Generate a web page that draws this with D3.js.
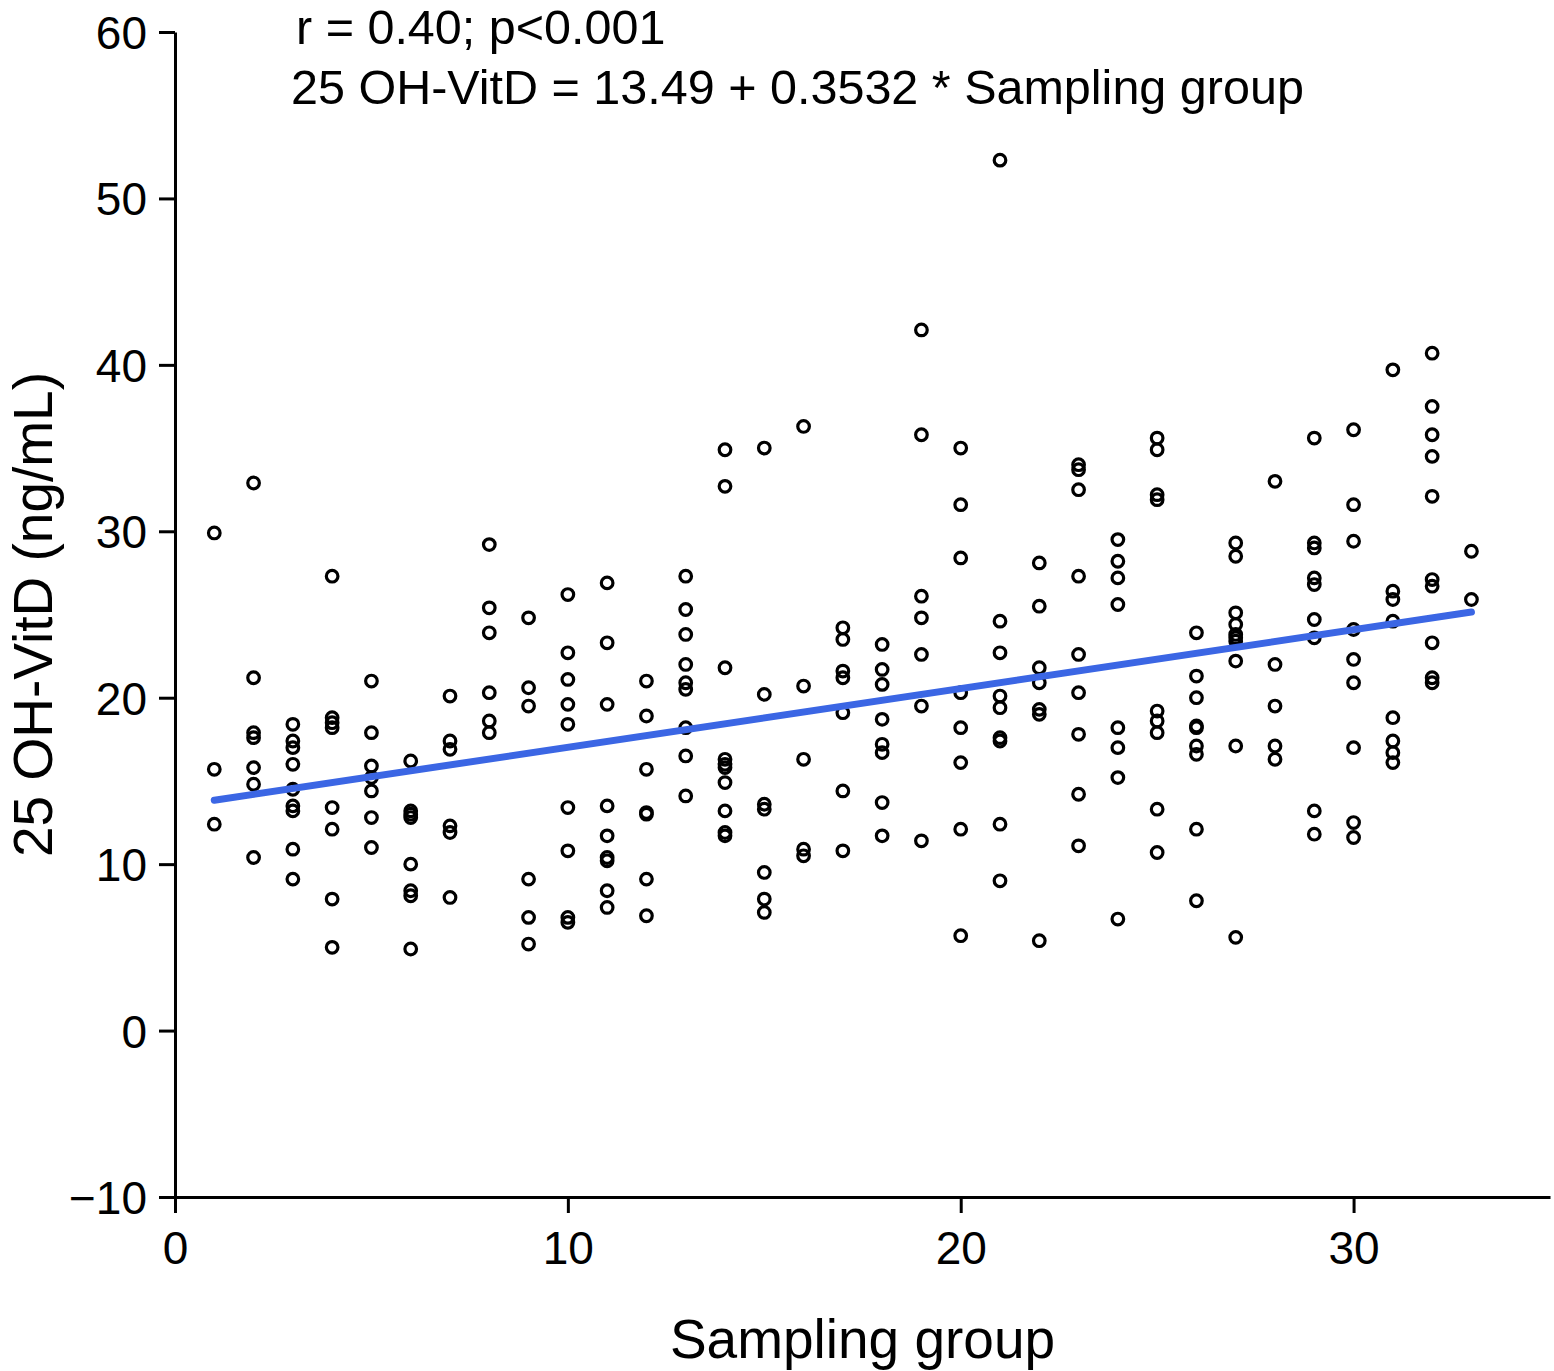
<!DOCTYPE html>
<html>
<head>
<meta charset="utf-8">
<script src="https://cdn.jsdelivr.net/npm/d3@7"></script>
<style>
    body { margin: 0; background: #fff; }
    svg text { font-family: "Liberation Sans", Arial, Helvetica, sans-serif; fill: #000; }
</style>
</head>
<body>
<div id="chart"></div>
<script>
// Sampling groups (x) and the 25 OH-VitD readings (ng/mL) in each group
const samplingGroups = [1, 2, 3, 4, 5, 6, 7, 8, 9, 10, 11, 12, 13, 14, 15, 16, 17,
    18, 19, 20, 21, 22, 23, 24, 25, 26, 27, 28, 29, 30, 31, 32, 33];

const vitDByGroup = [
    [29.9, 15.7, 12.4],
    [32.9, 21.2, 17.9, 17.6, 15.8, 14.8, 10.4],
    [18.4, 17.4, 17.0, 16.0, 14.5, 13.5, 13.2, 10.9, 9.1],
    [27.3, 18.8, 18.5, 18.2, 13.4, 12.1, 7.9, 5.0],
    [21.0, 17.9, 15.9, 15.2, 14.4, 12.8, 11.0],
    [16.2, 13.2, 13.0, 12.8, 10.0, 8.4, 8.1, 4.9],
    [20.1, 17.4, 16.9, 12.3, 11.9, 8.0],
    [29.2, 25.4, 23.9, 20.3, 18.6, 17.9],
    [24.8, 20.6, 19.5, 9.1, 6.8, 5.2],
    [26.2, 22.7, 21.1, 19.6, 18.4, 13.4, 10.8, 6.8, 6.5],
    [26.9, 23.3, 19.6, 13.5, 11.7, 10.4, 10.2, 8.4, 7.4],
    [21.0, 18.9, 15.7, 13.1, 13.0, 9.1, 6.9],
    [27.3, 25.3, 23.8, 22.0, 20.9, 20.5, 18.2, 16.5, 14.1],
    [34.9, 32.7, 21.8, 16.3, 16.0, 15.8, 14.9, 13.2, 11.9, 11.7],
    [35.0, 20.2, 13.6, 13.3, 9.5, 7.9, 7.1],
    [36.3, 20.7, 16.3, 10.9, 10.5],
    [24.2, 23.5, 21.6, 21.2, 19.1, 14.4, 10.8],
    [23.2, 21.7, 20.8, 18.7, 17.2, 16.7, 13.7, 11.7],
    [42.1, 35.8, 26.1, 24.8, 22.6, 19.5, 11.4],
    [35.0, 31.6, 28.4, 20.3, 18.2, 16.1, 12.1, 5.7],
    [52.3, 24.6, 22.7, 20.1, 19.4, 17.6, 17.4, 12.4, 9.0],
    [28.1, 25.5, 21.8, 20.9, 19.3, 19.0, 5.4],
    [34.0, 33.7, 32.5, 27.3, 22.6, 20.3, 17.8, 14.2, 11.1],
    [29.5, 28.2, 27.2, 25.6, 18.2, 17.0, 15.2, 6.7],
    [35.6, 34.9, 32.2, 31.9, 19.2, 18.6, 17.9, 13.3, 10.7],
    [23.9, 21.3, 20.0, 18.3, 18.2, 17.1, 16.6, 12.1, 7.8],
    [29.3, 28.5, 25.1, 24.4, 23.8, 23.6, 23.4, 22.2, 17.1, 5.6],
    [33.0, 22.0, 19.5, 17.1, 16.3],
    [35.6, 29.3, 29.0, 27.2, 26.8, 24.7, 23.6, 13.2, 11.8],
    [36.1, 31.6, 29.4, 24.1, 22.3, 20.9, 17.0, 12.5, 11.6],
    [39.7, 26.4, 25.9, 24.6, 18.8, 17.4, 16.7, 16.1],
    [40.7, 37.5, 35.8, 34.5, 32.1, 27.1, 26.7, 23.3, 21.2, 20.9],
    [28.8, 25.9]
];

// Regression line reported on the chart
const fitIntercept = 13.49;
const fitSlope = 0.3532;
const fitGroups = [1, 33];

// Axis ticks
const xTicks = [0, 10, 20, 30];
const yTicks = [-10, 0, 10, 20, 30, 40, 50, 60];

const annotations = ["r = 0.40; p<0.001", "25 OH-VitD = 13.49 + 0.3532 * Sampling group"];

// Set dimensions
const width = 1554;
const height = 1371;
const margin = { top: 32, right: 4, bottom: 174, left: 175 };

const x = d3.scaleLinear()
    .domain([0, 35])
    .range([margin.left, width - margin.right]);

const y = d3.scaleLinear()
    .domain([-10, 60])
    .range([height - margin.bottom, margin.top]);

const svg = d3.select("#chart")
    .append("svg")
    .attr("width", width)
    .attr("height", height);

// Axes
const xAxis = svg.append("g")
    .attr("transform", `translate(0, ${y(-10)})`)
    .call(d3.axisBottom(x).tickValues(xTicks).tickSize(16).tickSizeOuter(0).tickPadding(11));

const yAxis = svg.append("g")
    .attr("transform", `translate(${x(0)}, 0)`)
    .call(d3.axisLeft(y).tickValues(yTicks).tickSize(16).tickSizeOuter(0).tickPadding(12));

[xAxis, yAxis].forEach(axis => {
    axis.selectAll("path.domain").attr("stroke", "#000").attr("stroke-width", 3);
    axis.selectAll(".tick line").attr("stroke", "#000").attr("stroke-width", 3);
    axis.selectAll(".tick text")
        .attr("font-size", 46)
        .style("font-family", "'Liberation Sans', Arial, sans-serif")
        .attr("fill", "#000");
});
xAxis.selectAll(".tick text").attr("dy", "0.88em");
yAxis.selectAll(".tick text").attr("dy", "0.36em");

// Axis titles
svg.append("text")
    .attr("text-anchor", "middle")
    .attr("x", x(17.5))
    .attr("y", 1358)
    .attr("font-size", 55)
    .text("Sampling group");

svg.append("text")
    .attr("text-anchor", "middle")
    .attr("transform", "rotate(-90)")
    .attr("x", -y(25))
    .attr("y", 52)
    .attr("font-size", 55)
    .text("25 OH-VitD (ng/mL)");

// Points
const points = samplingGroups.flatMap((g, i) => vitDByGroup[i].map(v => ({ group: g, value: v })));

svg.append("g")
    .selectAll("circle")
    .data(points)
    .join("circle")
    .attr("cx", d => x(d.group))
    .attr("cy", d => y(d.value))
    .attr("r", 5.8)
    .attr("fill", "none")
    .attr("stroke", "#000")
    .attr("stroke-width", 3.2);

// Best fit line
const fitLine = d3.line()
    .x(g => x(g))
    .y(g => y(fitIntercept + fitSlope * g));

svg.append("path")
    .datum(fitGroups)
    .attr("d", fitLine)
    .attr("fill", "none")
    .attr("stroke", "#3b66e4")
    .attr("stroke-width", 7)
    .attr("stroke-linecap", "round");

// Annotation
svg.append("g")
    .selectAll("text")
    .data(annotations)
    .join("text")
    .attr("x", (d, i) => i === 0 ? 296 : 291)
    .attr("y", (d, i) => 44 + i * 60)
    .attr("font-size", 48.5)
    .text(d => d);
</script>
</body>
</html>
